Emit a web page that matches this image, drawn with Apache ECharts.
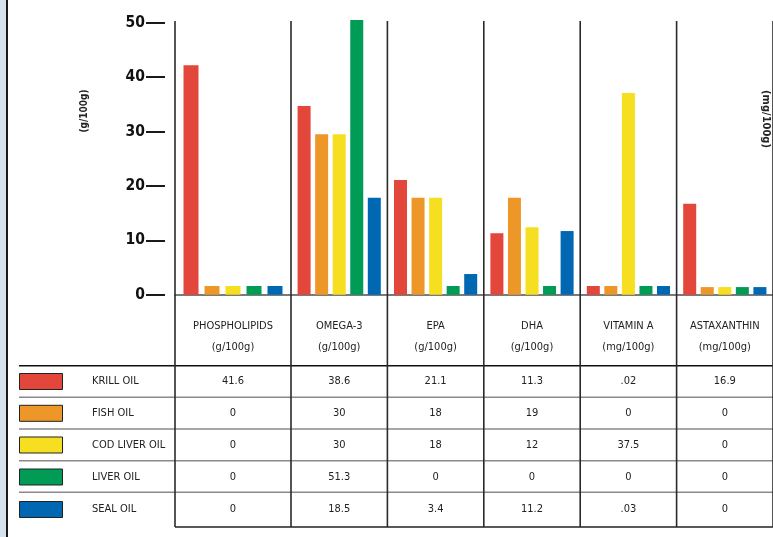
<!DOCTYPE html>
<html><head><meta charset="utf-8">
<script src="https://cdn.jsdelivr.net/npm/echarts@6/dist/echarts.min.js"></script>
<style>html,body{margin:0;padding:0;background:#fff}
#c{width:773px;height:537px;background:linear-gradient(to right,#d4e3ee 0,#d4e3ee 6px,#1a1a1a 6px,#1a1a1a 8px,#ffffff 8px,#ffffff 100%)}</style>
</head><body><div id="c"></div>
<script>
// ---- data ----
const categories = ['PHOSPHOLIPIDS', 'OMEGA-3', 'EPA', 'DHA', 'VITAMIN A', 'ASTAXANTHIN'];
const units = ['(g/100g)', '(g/100g)', '(g/100g)', '(g/100g)', '(mg/100g)', '(mg/100g)'];
const oils = ['KRILL OIL', 'FISH OIL', 'COD LIVER OIL', 'LIVER OIL', 'SEAL OIL'];
// bar heights as drawn in the picture
const krillBars = [42.2, 34.7, 21.1, 11.3, 1.6, 16.7];
const fishBars  = [1.6, 29.5, 17.8, 17.8, 1.6, 1.4];
const codBars   = [1.6, 29.5, 17.8, 12.4, 37.1, 1.4];
const liverBars = [1.6, 50.5, 1.6, 1.6, 1.6, 1.4];
const sealBars  = [1.6, 17.8, 3.8, 11.7, 1.6, 1.4];
// values printed in the table
const krillTable = ['41.6', '38.6', '21.1', '11.3', '.02', '16.9'];
const fishTable  = ['0', '30', '18', '19', '0', '0'];
const codTable   = ['0', '30', '18', '12', '37.5', '0'];
const liverTable = ['0', '51.3', '0', '0', '0', '0'];
const sealTable  = ['0', '18.5', '3.4', '11.2', '.03', '0'];
const yMin = 0, yMax = 50, yStep = 10;
const leftAxisName = '(g/100g)';
const rightAxisName = '(mg/100g)';

// ---- styles / layout ----
const FONT = "'Liberation Sans Narrow','DejaVu Sans Condensed','Arial Narrow',sans-serif";
const colors = ['#e3463a', '#ee9729', '#f6df20', '#009c55', '#0068b3'];
const plotTop = 22.7, plotBottom = 294.7;
const sepTop = 21, tableBottom = 527;
const rowLines = [365.7, 397.3, 429, 460.7, 492.3];
const rowCenters = [381.5, 413.3, 445, 477, 509.5];
const TXT = 11;

const barData = [krillBars, fishBars, codBars, liverBars, sealBars];
const tableData = [krillTable, fishTable, codTable, liverTable, sealTable];

const chart = echarts.init(document.getElementById('c'), null, { renderer: 'canvas' });

const series = [];
oils.forEach((name, i) => {
  series.push({ type: 'bar', name, xAxisIndex: 0, yAxisIndex: 0, data: barData[i].slice(0, 1),
    barWidth: 15, barGap: '40%', itemStyle: { color: colors[i] }, clip: false, silent: true });
  series.push({ type: 'bar', name, xAxisIndex: 1, yAxisIndex: 1, data: barData[i].slice(1),
    barWidth: 13, barGap: '35%', itemStyle: { color: colors[i] }, clip: false, silent: true });
});

const xLabel = {
  interval: 0, margin: 21, fontFamily: FONT, fontSize: TXT, color: '#222', lineHeight: 21,
  formatter: v => v + '\n' + units[categories.indexOf(v)]
};
const xCommon = {
  type: 'category', boundaryGap: true,
  axisLine: { show: true, lineStyle: { color: '#7a7a7a', width: 2 } },
  axisTick: { show: false }, splitLine: { show: false }, axisLabel: xLabel
};

chart.setOption({
  animation: false,
  backgroundColor: 'transparent',
  grid: [
    { left: 175, top: plotTop, width: 116, height: plotBottom - plotTop },
    { left: 291, top: plotTop, width: 491, height: plotBottom - plotTop }
  ],
  xAxis: [
    Object.assign({ gridIndex: 0, data: categories.slice(0, 1) }, xCommon),
    Object.assign({ gridIndex: 1, data: categories.slice(1) }, xCommon)
  ],
  yAxis: [
    { type: 'value', gridIndex: 0, min: yMin, max: yMax, interval: yStep, offset: 10,
      axisLine: { show: false },
      axisTick: { show: true, length: 19, lineStyle: { color: '#1a1a1a', width: 2 } },
      splitLine: { show: false },
      axisLabel: { margin: 20, fontFamily: FONT, fontSize: 15.5, fontWeight: 'bold', color: '#111' } },
    { type: 'value', gridIndex: 1, min: yMin, max: yMax, interval: yStep, show: false,
      splitLine: { show: false } }
  ],
  series
});

// ---- overlays computed from the axes ----
const c0 = chart.convertToPixel({ xAxisIndex: 0 }, categories[0]);
const cs = categories.slice(1).map(c => chart.convertToPixel({ xAxisIndex: 1 }, c));
const band = cs[1] - cs[0];
const leftB1 = cs[0] - band / 2;
const leftB0 = 2 * c0 - leftB1;
const boundaries = [leftB0, leftB1].concat(cs.map(c => c + band / 2));
const colCenters = [c0].concat(cs);

const g = [];
boundaries.forEach(x => {
  g.push({ type: 'line', shape: { x1: x, y1: sepTop, x2: x, y2: tableBottom },
    style: { stroke: '#2a2a2a', lineWidth: 1.6 }, silent: true, z: 10 });
});
rowLines.forEach((y, i) => {
  g.push({ type: 'line', shape: { x1: 19, y1: y, x2: 773, y2: y },
    style: { stroke: i === 0 ? '#111' : '#8a8a8a', lineWidth: i === 0 ? 1.4 : 1.6 }, silent: true });
});
g.push({ type: 'line', shape: { x1: leftB0, y1: tableBottom, x2: 773, y2: tableBottom },
  style: { stroke: '#222', lineWidth: 1.4 }, silent: true });
oils.forEach((name, i) => {
  const y = rowCenters[i];
  g.push({ type: 'rect', shape: { x: 19.5, y: y - 8, width: 43, height: 16 },
    style: { fill: colors[i], stroke: '#222', lineWidth: 1 }, silent: true });
  g.push({ type: 'text', x: 92, y, style: { text: name, font: TXT + 'px ' + FONT, fill: '#222', verticalAlign: 'middle' }, silent: true });
  tableData[i].forEach((v, j) => {
    g.push({ type: 'text', x: colCenters[j], y, style: { text: v, font: TXT + 'px ' + FONT, fill: '#222',
      align: 'center', verticalAlign: 'middle' }, silent: true });
  });
});
g.push({ type: 'text', x: 84, y: 111, rotation: Math.PI / 2,
  style: { text: leftAxisName, font: 'bold 10px ' + FONT, fill: '#222', align: 'center', verticalAlign: 'middle' }, silent: true });
g.push({ type: 'text', x: 766, y: 119, rotation: -Math.PI / 2,
  style: { text: rightAxisName, font: 'bold 11px ' + FONT, fill: '#222', align: 'center', verticalAlign: 'middle' }, silent: true });

chart.setOption({ graphic: g });
</script></body></html>
